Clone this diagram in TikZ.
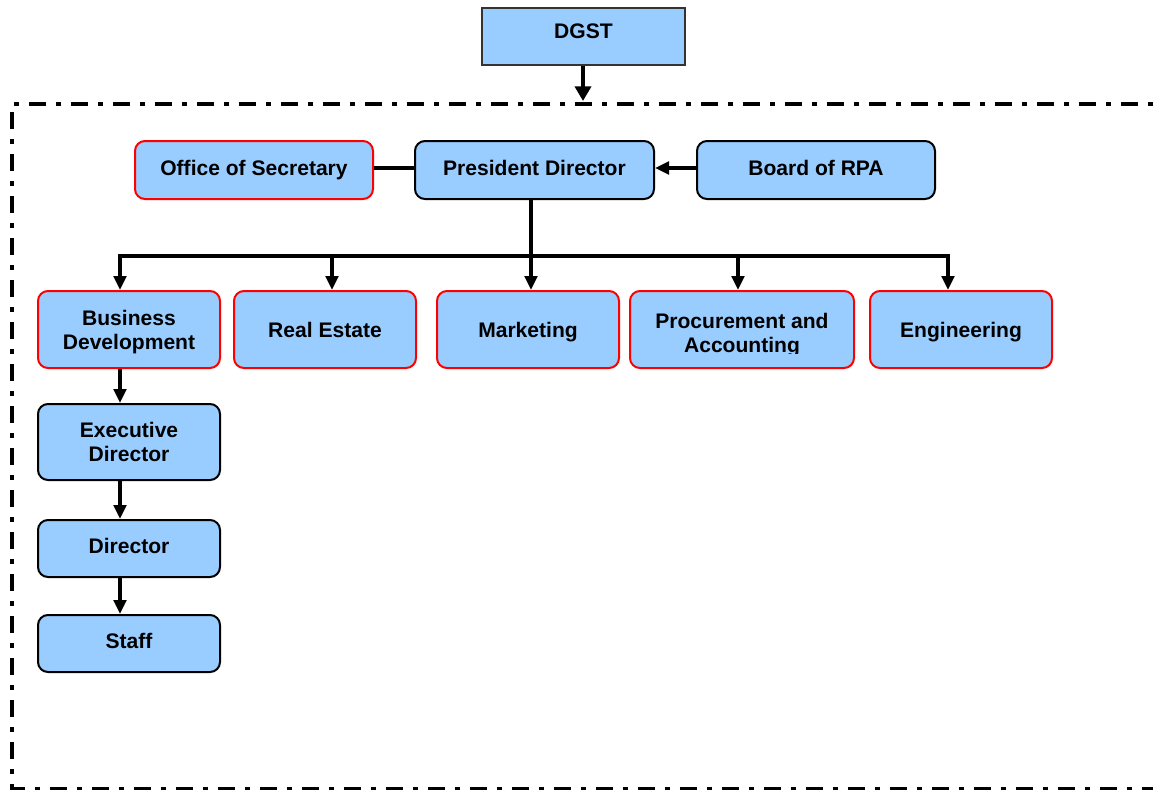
\documentclass[tikz,border=0pt]{standalone}
\usepackage{fontspec}
\setmainfont{Liberation Sans}
\usetikzlibrary{arrows.meta,calc}
\definecolor{boxblue}{HTML}{99CCFF}
\definecolor{boxred}{HTML}{FF0000}
\begin{document}
\begin{tikzpicture}[x=0.75pt,y=-0.75pt,
  every node/.style={font=\fontsize{15.8pt}{17.4pt}\selectfont\bfseries, align=center, inner sep=0pt},
  lbl/.style={anchor=base},
  unit/.style={draw=black, line width=1.5pt, fill=boxblue, rounded corners=7.5pt},
  redunit/.style={unit, draw=boxred},
  topunit/.style={draw=black!80, line width=0.9pt, fill=boxblue},
  link/.style={line width=2.4pt},
  arr/.style={link, -{Triangle[length=10.5pt,width=9.5pt]}},
  frame/.style={line width=3pt, dash pattern=on 12.75pt off 7.5pt on 3.75pt off 7.5pt}
]
\useasboundingbox (0,0) rectangle (1153,789);

% top authority
\node[topunit, minimum width=203*0.75pt, minimum height=57*0.75pt] (dgst) at (583.5,36.5) {};
\node[lbl] (dgstt) at (583.5,38.5) {DGST};

% enclosing dash-dotted frame
\coordinate (frametop) at (583,101);
\begin{scope}
  \clip (0,0) rectangle (1153,789);
  \draw[frame] (1180,104) -- (12,104) -- (12,788.5) -- (1180,788.5);
\end{scope}
\draw[line width=3.6pt, -{Triangle[length=11pt,width=12pt]}] (dgst.south -| frametop) -- (frametop);

% management row
\node[redunit, minimum width=238*0.75pt, minimum height=58*0.75pt] (sec) at (254,170) {};
\node[lbl] (sect) at (254,175.5) {Office of Secretary};
\node[unit, minimum width=239*0.75pt, minimum height=58*0.75pt] (pres) at (534.5,170) {};
\node[lbl] (prest) at (534.5,175.5) {President Director};
\node[unit, minimum width=238*0.75pt, minimum height=58*0.75pt] (board) at (816,170) {};
\node[lbl] (boardt) at (816,175.5) {Board of RPA};
\draw[link] (sec.east) ++(0,-2) coordinate (s1) -- (s1 -| pres.west);
\draw[arr] (board.west) ++(0,-2) coordinate (b1) -- (b1 -| pres.east);

% departments
\node[redunit, minimum width=182*0.75pt, minimum height=77*0.75pt] (bd) at (129,329.5) {};
\node (bdt) at (129,332) {Business\\Development};
\node[redunit, minimum width=182*0.75pt, minimum height=77*0.75pt] (re) at (325,329.5) {};
\node[lbl] (ret) at (325,337.5) {Real Estate};
\node[redunit, minimum width=182*0.75pt, minimum height=77*0.75pt] (mk) at (528,329.5) {};
\node[lbl] (mkt) at (528,337.5) {Marketing};
\node[redunit, minimum width=224*0.75pt, minimum height=77*0.75pt] (pa) at (742,329.5) {};
\begin{scope}
  \clip (631,293) rectangle (853,353.5);
  \node (pat) at (742,335) {Procurement and\\Accounting};
\end{scope}
\node[redunit, minimum width=182*0.75pt, minimum height=77*0.75pt] (eng) at (961,329.5) {};
\node[lbl] (engt) at (961,337.5) {Engineering};

% distribution bus
\coordinate (j1) at (120,256);
\coordinate (j2) at (332,256);
\coordinate (j3) at (531,256);
\coordinate (j4) at (738,256);
\coordinate (j5) at (948,256);
\draw[link] (pres.south -| j3) -- (j3);
\draw[link] ([xshift=-1.2pt]j1) -- ([xshift=1.2pt]j5);
\draw[arr] (j1) -- (bd.north -| j1);
\draw[arr] (j2) -- (re.north -| j2);
\draw[arr] (j3) -- (mk.north -| j3);
\draw[arr] (j4) -- (pa.north -| j4);
\draw[arr] (j5) -- (eng.north -| j5);

% business development chain
\node[unit, minimum width=182*0.75pt, minimum height=76*0.75pt] (exd) at (129,442) {Executive\\Director};
\node[unit, minimum width=182*0.75pt, minimum height=57*0.75pt] (dir) at (129,548.5) {};
\node[lbl] (dirt) at (129,553.5) {Director};
\node[unit, minimum width=182*0.75pt, minimum height=57*0.75pt] (staff) at (129,643.5) {};
\node[lbl] (stafft) at (129,648) {Staff};
\draw[arr] (bd.south -| j1) -- (exd.north -| j1);
\draw[arr] (exd.south -| j1) -- (dir.north -| j1);
\draw[arr] (dir.south -| j1) -- (staff.north -| j1);
\end{tikzpicture}
\end{document}
